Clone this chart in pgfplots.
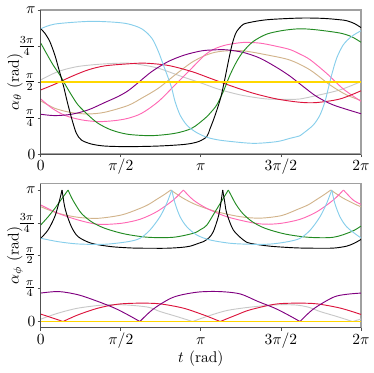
\documentclass[border=0pt]{standalone}
\usepackage{pgfplots}
\pgfplotsset{compat=1.18}

\definecolor{cgold}{RGB}{255,215,0}
\definecolor{ccrimson}{RGB}{220,20,60}
\definecolor{cpink}{RGB}{255,105,180}
\definecolor{ctan}{RGB}{210,180,140}
\definecolor{cgray}{RGB}{200,200,200}
\definecolor{cpurple}{RGB}{128,0,128}
\definecolor{cgreen}{RGB}{34,139,34}
\definecolor{cblue}{RGB}{135,206,235}
\definecolor{framedark}{RGB}{80,80,80}
\definecolor{framelight}{RGB}{160,160,160}

\pgfplotsset{
  panel/.style={
    scale only axis, width=206.6pt, height=92.9pt,
    xmin=0, xmax=6.2832,
    xtick={0,1.5708,3.1416,4.7124,6.2832},
    xticklabels={$0$,$\pi/2$,$\pi$,$3\pi/2$,$2\pi$},
    ytick={0,0.7854,1.5708,2.3562,3.1416},
    yticklabels={$0$,$\frac{\pi}{4}$,$\frac{\pi}{2}$,$\frac{3\pi}{4}$,$\pi$},
    tick align=outside, tick pos=left, major tick length=2pt,
    tick style={framedark, line width=0.5pt},
    axis line style={framelight, line width=0.8pt},
    xticklabel style={inner sep=1.2pt, text height=7.5pt, text depth=2.5pt},
    yticklabel style={inner sep=1.2pt},
    every axis y label/.style={at={(rel axis cs:0,0.5)}, xshift=-16.6pt, rotate=90, anchor=center},
    every axis x label/.style={at={(rel axis cs:0.5,0)}, yshift=-20pt, anchor=center},
    clip=false,
    every axis plot/.append style={line width=0.6pt, line join=round, mark=none},
  },
  seg/.style={smooth, tension=0.5, forget plot},
}

\begin{document}
\begin{tikzpicture}

% ---------- top panel: alpha_theta ----------
\begin{axis}[panel, at={(0,112.1pt)}, ymin=0, ymax=3.1416,
  ylabel={$\alpha_\theta$ (rad)}]
\addplot[cgray, seg] coordinates {(0,1.618) (0.34,1.80) (0.732,1.911) (1.255,1.968) (1.712,1.983) (1.981,1.946) (2.307,1.873) (2.766,1.692) (3.158,1.546) (3.42,1.44) (3.649,1.364) (3.975,1.277) (4.434,1.202) (4.89,1.195) (5.087,1.202) (5.414,1.277) (5.871,1.40) (6.283,1.58)};
\addplot[ctan, seg] coordinates {(0,1.16) (0.275,0.999) (0.601,0.905) (0.928,0.875) (1.255,0.912) (1.712,1.06) (1.981,1.22) (2.307,1.436) (2.635,1.727) (2.962,2.00) (3.223,2.15) (3.42,2.22) (3.649,2.252) (3.975,2.252) (4.434,2.164) (4.89,2.05) (5.283,1.836) (5.675,1.508) (6.0,1.29) (6.283,1.17)};
\addplot[cpink, seg] coordinates {(0,1.202) (0.222,0.999) (0.484,0.839) (0.81,0.744) (1.138,0.708) (1.451,0.73) (1.712,0.78) (1.981,0.89) (2.307,1.146) (2.635,1.508) (2.962,1.873) (3.223,2.164) (3.42,2.30) (3.649,2.383) (3.975,2.435) (4.302,2.42) (4.63,2.35) (4.89,2.28) (5.087,2.18) (5.283,2.06) (5.61,1.76) (5.936,1.42) (6.283,1.15)};
\addplot[ccrimson, seg] coordinates {(0,1.40) (0.275,1.524) (0.601,1.692) (0.928,1.836) (1.255,1.924) (1.712,1.968) (2.046,1.983) (2.503,1.933) (2.962,1.80) (3.321,1.655) (3.714,1.495) (4.17,1.327) (4.63,1.202) (5.087,1.13) (5.414,1.124) (5.871,1.202) (6.283,1.38)};
\addplot[cpurple, seg] coordinates {(0,0.868) (0.275,0.839) (0.601,0.868) (0.928,0.962) (1.255,1.124) (1.516,1.255) (1.712,1.38) (1.915,1.56) (2.178,1.80) (2.503,2.02) (2.831,2.164) (3.158,2.252) (3.42,2.274) (3.649,2.274) (3.975,2.217) (4.302,2.092) (4.63,1.889) (4.89,1.70) (5.151,1.473) (5.414,1.255) (5.74,1.071) (6.283,0.88)};
\addplot[cgreen, seg] coordinates {(0,2.42) (0.110,2.20) (0.241,1.946) (0.373,1.727) (0.503,1.473) (0.601,1.29) (0.732,1.071) (0.928,0.853) (1.124,0.671) (1.385,0.525) (1.712,0.431) (2.178,0.402) (2.635,0.453) (2.962,0.562) (3.223,0.78) (3.321,0.89) (3.453,1.071) (3.582,1.364) (3.714,1.727) (3.845,2.02) (3.975,2.239) (4.17,2.457) (4.434,2.617) (4.759,2.698) (5.087,2.733) (5.414,2.71) (5.871,2.64) (6.1,2.56) (6.283,2.44)};
\addplot[black, seg] coordinates {(0,2.733) (0.078,2.64) (0.177,2.457) (0.275,2.164) (0.340,1.91) (0.405,1.655) (0.457,1.436) (0.503,1.218) (0.569,0.927) (0.634,0.671) (0.699,0.453) (0.797,0.306) (0.993,0.219) (1.255,0.175) (1.712,0.162) (2.307,0.175) (2.831,0.212) (3.092,0.271) (3.256,0.38) (3.32,0.55) (3.38,0.72) (3.453,0.95) (3.51,1.15) (3.551,1.32) (3.616,1.66) (3.681,2.02) (3.747,2.36) (3.80,2.56) (3.845,2.676) (3.94,2.80) (4.041,2.857) (4.434,2.93) (5.087,2.967) (5.544,2.96) (5.87,2.93) (6.0,2.91) (6.15,2.85) (6.283,2.76)};
\addplot[cblue, seg] coordinates {(0,2.733) (0.275,2.836) (0.928,2.894) (1.4,2.88) (1.712,2.84) (1.981,2.733) (2.178,2.53) (2.307,2.24) (2.405,1.946) (2.503,1.655) (2.57,1.436) (2.635,1.146) (2.733,0.853) (2.864,0.634) (3.027,0.49) (3.223,0.38) (3.42,0.321) (3.649,0.284) (4.17,0.234) (4.63,0.271) (4.89,0.343) (5.087,0.40) (5.151,0.453) (5.348,0.634) (5.479,0.853) (5.577,1.146) (5.642,1.436) (5.708,1.727) (5.806,2.092) (5.936,2.383) (6.1,2.567) (6.283,2.69)};
\addplot[cgold, line width=1.2pt] coordinates {(0,1.5708) (6.2832,1.5708)};
\draw[framedark, line width=0.6pt] (rel axis cs:0,1) -- (rel axis cs:0,0) -- (rel axis cs:1,0);
\end{axis}

% ---------- bottom panel: alpha_phi ----------
\begin{axis}[panel, at={(0,0)}, ymin=-0.15, ymax=3.29,
  ylabel={$\alpha_\phi$ (rad)}, xlabel={$t$ (rad)}]
% gray
\addplot[cgray, seg] coordinates {(0,0.057) (0.34,0.20) (0.732,0.32) (1.255,0.398) (1.648,0.398) (2.105,0.343) (2.34,0.239) (2.668,0.12) (2.98,0)};
\addplot[cgray, seg] coordinates {(2.98,0) (3.256,0.12) (3.649,0.262) (4.106,0.343) (4.6,0.398) (5.0,0.395) (5.25,0.343) (5.48,0.239) (5.81,0.12) (6.12,0)};
\addplot[cgray, seg] coordinates {(6.12,0) (6.283,0.06)};
% tan
\addplot[ctan, seg] coordinates {(0,2.743) (0.34,2.586) (0.732,2.49) (1.124,2.466) (1.581,2.545) (1.90,2.68) (2.105,2.79) (2.276,2.92) (2.42,3.03) (2.55,3.1416)};
\addplot[ctan, seg] coordinates {(2.55,3.1416) (2.798,2.943) (3.06,2.784) (3.453,2.624) (3.91,2.505) (4.3,2.47) (4.72,2.53) (5.04,2.68) (5.25,2.79) (5.42,2.92) (5.56,3.03) (5.69,3.1416)};
\addplot[ctan, seg] coordinates {(5.69,3.1416) (5.94,2.943) (6.2,2.784) (6.283,2.743)};
% pink
\addplot[cpink, seg] coordinates {(0,2.784) (0.34,2.586) (0.732,2.426) (1.124,2.323) (1.581,2.347) (1.948,2.443) (2.276,2.624) (2.601,2.903) (2.798,3.1416)};
\addplot[cpink, seg] coordinates {(2.798,3.1416) (2.994,2.903) (3.256,2.705) (3.649,2.505) (4.106,2.37) (4.4,2.325) (4.72,2.347) (5.09,2.443) (5.42,2.624) (5.74,2.903) (5.94,3.1416)};
\addplot[cpink, seg] coordinates {(5.94,3.1416) (6.13,2.903) (6.283,2.80)};
% red
\addplot[ccrimson, seg] coordinates {(0,0.177) (0.208,0.095) (0.437,0)};
\addplot[ccrimson, seg] coordinates {(0.437,0) (0.732,0.16) (1.124,0.32) (1.516,0.415) (1.948,0.439) (2.34,0.422) (2.798,0.32) (3.19,0.16) (3.35,0.085) (3.52,0)};
\addplot[ccrimson, seg] coordinates {(3.52,0) (3.845,0.16) (4.106,0.279) (4.6,0.415) (5.03,0.439) (5.42,0.422) (5.88,0.32) (6.283,0.17)};
% purple
\addplot[cpurple, seg] coordinates {(0,0.68) (0.35,0.716) (0.73,0.64) (1.12,0.48) (1.45,0.32) (1.71,0.16) (1.945,0)};
\addplot[cpurple, seg] coordinates {(1.945,0) (2.21,0.30) (2.60,0.58) (3.06,0.70) (3.5,0.716) (3.91,0.66) (4.26,0.48) (4.59,0.32) (4.85,0.16) (5.087,0)};
\addplot[cpurple, seg] coordinates {(5.087,0) (5.35,0.30) (5.74,0.58) (6.0,0.65) (6.283,0.68)};
% green
\addplot[cgreen, seg] coordinates {(0,2.307) (0.143,2.50) (0.275,2.70) (0.405,2.92) (0.536,3.1416)};
\addplot[cgreen, seg] coordinates {(0.536,3.1416) (0.60,2.97) (0.667,2.824) (0.797,2.586) (0.993,2.385) (1.255,2.228) (1.648,2.092) (2.105,2.013) (2.60,2.013) (2.994,2.109) (3.14,2.20) (3.256,2.30) (3.41,2.60) (3.55,2.88) (3.68,3.1416)};
\addplot[cgreen, seg] coordinates {(3.68,3.1416) (3.75,2.98) (3.83,2.80) (3.96,2.586) (4.15,2.385) (4.40,2.228) (4.79,2.092) (5.25,2.013) (5.74,2.013) (6.1,2.15) (6.283,2.28)};
% black
\addplot[black, seg] coordinates {(0,1.989) (0.143,2.187) (0.275,2.505) (0.353,2.824) (0.418,3.1416)};
\addplot[black, seg] coordinates {(0.418,3.1416) (0.46,2.80) (0.503,2.586) (0.601,2.266) (0.732,2.028) (0.993,1.87) (1.385,1.789) (1.8,1.756) (2.1,1.751) (2.47,1.751) (2.75,1.77) (2.93,1.80) (3.10,1.87) (3.19,1.908) (3.30,2.00) (3.386,2.147) (3.484,2.505) (3.53,2.80) (3.57,3.1416)};
\addplot[black, seg] coordinates {(3.57,3.1416) (3.61,2.85) (3.649,2.586) (3.778,2.187) (3.975,1.949) (4.106,1.87) (4.5,1.80) (5.0,1.76) (5.4,1.751) (5.75,1.755) (6.0,1.80) (6.15,1.87) (6.283,1.96)};
% light blue
\addplot[cblue, seg] coordinates {(0,1.989) (0.34,1.908) (0.732,1.853) (1.255,1.846) (1.712,1.908) (1.948,1.989) (2.144,2.187) (2.34,2.505) (2.472,2.824) (2.57,3.1416)};
\addplot[cblue, seg] coordinates {(2.57,3.1416) (2.635,2.824) (2.733,2.505) (2.864,2.266) (3.06,2.068) (3.321,1.949) (3.714,1.87) (4.106,1.846) (4.5,1.85) (4.85,1.908) (5.09,1.989) (5.29,2.187) (5.48,2.505) (5.61,2.824) (5.71,3.1416)};
\addplot[cblue, seg] coordinates {(5.71,3.1416) (5.77,2.824) (5.87,2.505) (6.0,2.266) (6.2,2.068) (6.283,2.0)};
% gold
\addplot[cgold, line width=1.2pt] coordinates {(0,0) (6.2832,0)};
\draw[framedark, line width=0.6pt] (rel axis cs:0,1) -- (rel axis cs:0,0) -- (rel axis cs:1,0);
\end{axis}

\pgfresetboundingbox
\useasboundingbox (-26.3pt,-29pt) rectangle (215pt,211.5pt);
\end{tikzpicture}
\end{document}
